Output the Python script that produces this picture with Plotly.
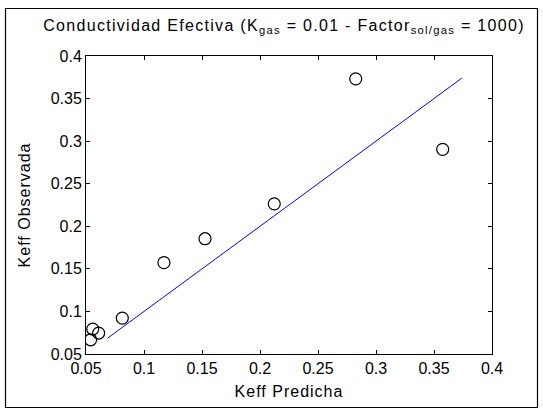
import plotly.graph_objects as go

# Data
keff_predicha = [0.0540, 0.0558, 0.0609, 0.0813, 0.1172, 0.1526, 0.2123, 0.2825, 0.3575]
keff_observada = [0.0667, 0.0793, 0.0746, 0.0922, 0.1573, 0.1854, 0.2264, 0.3732, 0.2904]
linea_x = [0.0687, 0.374]
linea_y = [0.0687, 0.374]
ticks = [0.05, 0.1, 0.15, 0.2, 0.25, 0.3, 0.35, 0.4]

W, H = 543, 410
L, R, T, B = 86, 492, 56, 354

FONT = "Liberation Sans"
FS = 16
SP = '<span style="letter-spacing:1px">{}</span>'
SPT = '<span style="letter-spacing:1.3px">{}</span>'

fig = go.Figure()
fig.add_trace(go.Scatter(
    x=linea_x, y=linea_y, mode="lines",
    line=dict(color="#0000FF", width=1), showlegend=False, hoverinfo="skip"))
fig.add_trace(go.Scatter(
    x=keff_predicha, y=keff_observada, mode="markers",
    marker=dict(symbol="circle-open", size=12, color="black", line=dict(width=1.2, color="black")),
    showlegend=False))

axis_common = dict(
    range=[0.05, 0.4], tickvals=ticks, ticktext=[f"{t:g}" for t in ticks],
    showgrid=False, zeroline=False, showline=True, linecolor="black", linewidth=1,
    mirror="ticks", ticks="inside", ticklen=4, tickcolor="black", tickwidth=1,
    tickfont=dict(family=FONT, size=FS, color="black"),
)

fig.update_layout(
    width=W, height=H,
    margin=dict(l=L, r=W - R, t=T, b=H - B, pad=0),
    paper_bgcolor="white", plot_bgcolor="white",
    font=dict(family=FONT, size=FS, color="black"),
    title=dict(
        text=SPT.format("Conductividad Efectiva (K<sub>gas</sub> = 0.01 - Factor<sub>sol/gas</sub> = 1000)"),
        x=284 / W, xanchor="center", xref="container",
        y=1 - 25 / H, yanchor="middle", yref="container",
        font=dict(family=FONT, size=FS, color="black")),
    xaxis=dict(**axis_common, title=dict(text=SP.format("Keff Predicha"), standoff=9,
                                         font=dict(family=FONT, size=FS, color="black"))),
    yaxis=dict(**axis_common, title=dict(text=SP.format("Keff Observada"), standoff=16,
                                         font=dict(family=FONT, size=FS, color="black"))),
)

# outer frame (figure border)
pw, ph = R - L, B - T
def px2x(p):
    return (p - L) / pw
def py2y(p):
    return (B - p) / ph
fig.add_shape(type="rect", xref="paper", yref="paper",
              x0=px2x(5.5), x1=px2x(537.5), y0=py2y(407.5), y1=py2y(8.5),
              line=dict(color="black", width=1.2), fillcolor="rgba(0,0,0,0)", layer="above")

fig.write_html("out.html")
